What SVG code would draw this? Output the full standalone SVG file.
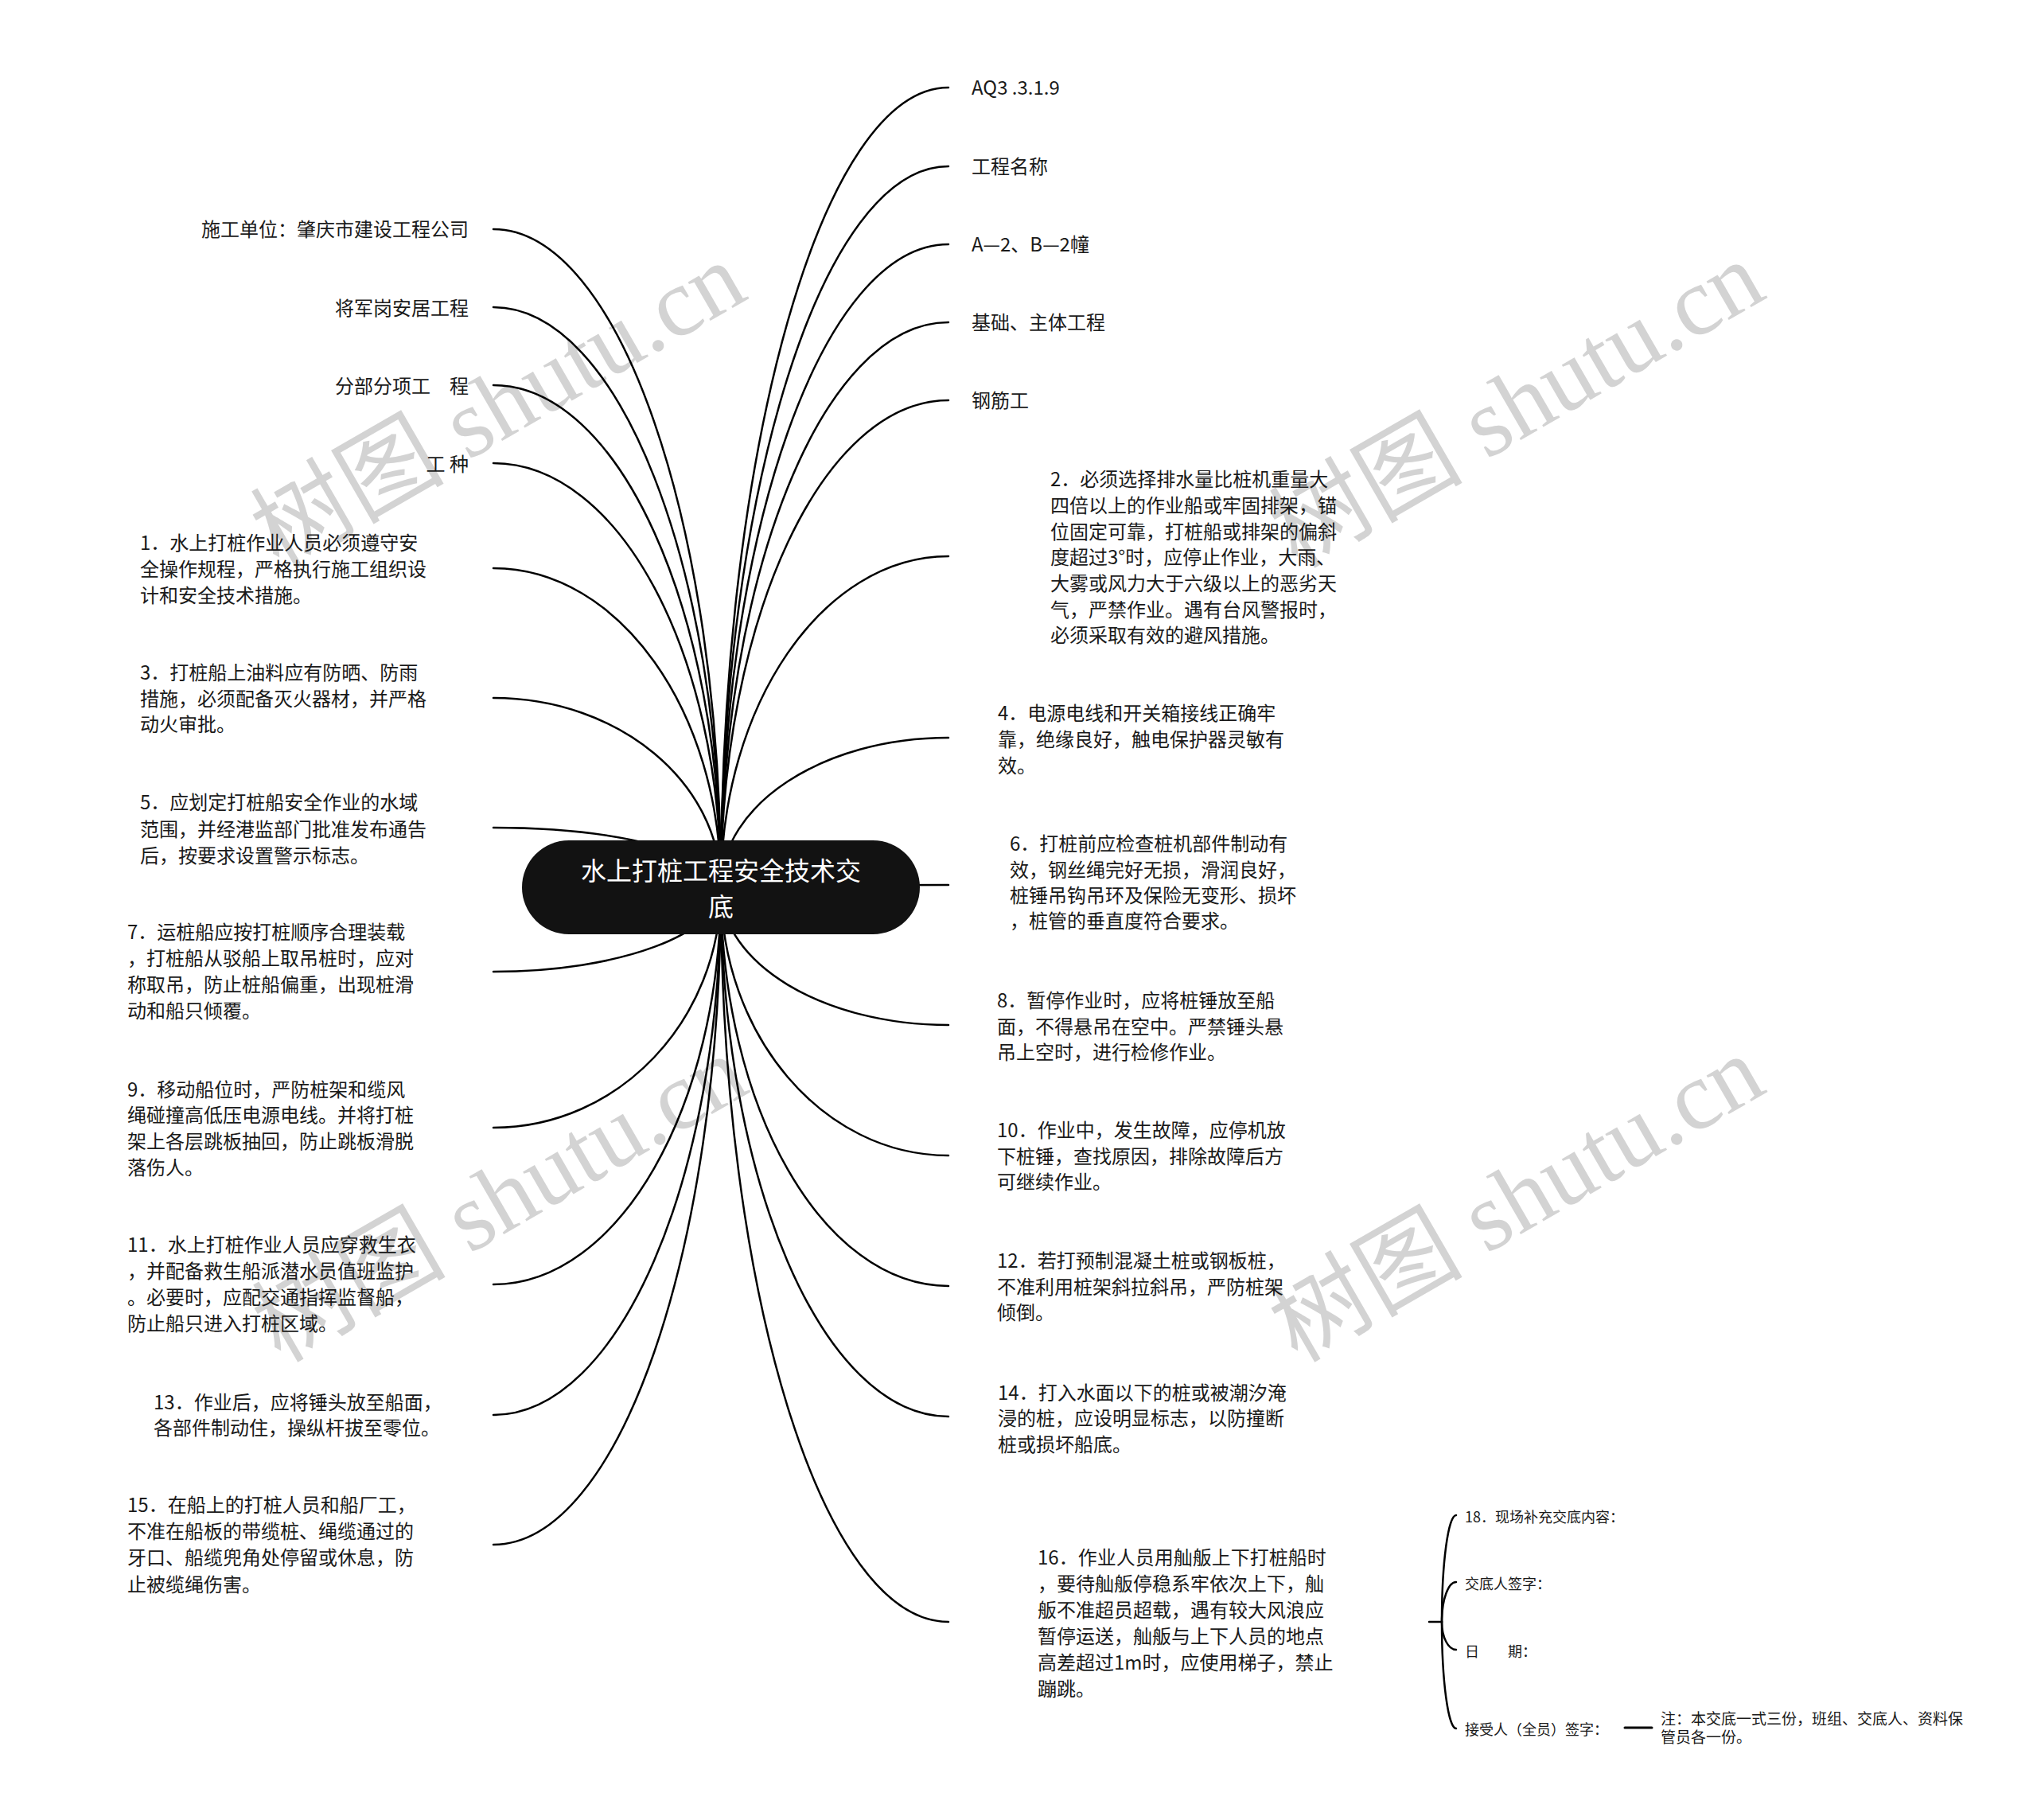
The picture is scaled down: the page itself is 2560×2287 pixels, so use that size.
<svg xmlns="http://www.w3.org/2000/svg" width="2560" height="2287" viewBox="0 0 2560 2287">
<style>
text{font-family:"Noto Sans CJK SC","Noto Sans",sans-serif;fill:#1a1a1a}
.t{font-size:24px}
.s{font-size:18px}
.n{font-size:19px}
.e{text-anchor:end}
.c{fill:none;stroke:#000;stroke-width:2.5;stroke-linecap:round}
.wm{font-family:"Liberation Serif","Noto Sans CJK SC",serif;font-size:122px;fill:#d3d3d3;text-anchor:end}
.root{font-size:32px;fill:#fff;text-anchor:middle}
</style>
<rect width="2560" height="2287" fill="#fff"/>
<g id="watermarks">
<text class="wm" transform="translate(943,374) rotate(-30)">树图 shutu.cn</text>
<text class="wm" transform="translate(2223,373) rotate(-30)">树图 shutu.cn</text>
<text class="wm" transform="translate(945,1371) rotate(-30)">树图 shutu.cn</text>
<text class="wm" transform="translate(2223,1371) rotate(-30)">树图 shutu.cn</text>
</g>
<g id="connectors">
<path class="c" d="M906 1115C906 560.2 1034.1 110 1192 110"/>
<path class="c" d="M906 1115C906 614.9 1034.1 209 1192 209"/>
<path class="c" d="M906 1115C906 669 1034.1 307 1192 307"/>
<path class="c" d="M906 1115C906 723.1 1034.1 405 1192 405"/>
<path class="c" d="M906 1115C906 777.2 1034.1 503 1192 503"/>
<path class="c" d="M906 1115C906 885.4 1034.1 699 1192 699"/>
<path class="c" d="M906 1115C906 1011.2 1034.1 927 1192 927"/>
<path class="c" d="M906 1115C906 1113.3 1034.1 1112 1192 1112"/>
<path class="c" d="M906 1115C906 1210.5 1034.1 1288 1192 1288"/>
<path class="c" d="M906 1115C906 1301 1034.1 1452 1192 1452"/>
<path class="c" d="M906 1115C906 1391.6 1034.1 1616 1192 1616"/>
<path class="c" d="M906 1115C906 1482.1 1034.1 1780 1192 1780"/>
<path class="c" d="M906 1115C906 1624.5 1034.1 2038 1192 2038"/>
<path class="c" d="M906 1115C906 658.5 777.9 288 620 288"/>
<path class="c" d="M906 1115C906 712.6 777.9 386 620 386"/>
<path class="c" d="M906 1115C906 766.7 777.9 484 620 484"/>
<path class="c" d="M906 1115C906 820.8 777.9 582 620 582"/>
<path class="c" d="M906 1115C906 893.6 777.9 714 620 714"/>
<path class="c" d="M906 1115C906 983.6 777.9 877 620 877"/>
<path class="c" d="M906 1115C906 1073.6 777.9 1040 620 1040"/>
<path class="c" d="M906 1115C906 1173.5 777.9 1221 620 1221"/>
<path class="c" d="M906 1115C906 1281.7 777.9 1417 620 1417"/>
<path class="c" d="M906 1115C906 1390.4 777.9 1614 620 1614"/>
<path class="c" d="M906 1115C906 1481 777.9 1778 620 1778"/>
<path class="c" d="M906 1115C906 1571 777.9 1941 620 1941"/>
<path class="c" d="M1796 2038H1812"/>
<path class="c" d="M1812 2038C1812 1964 1820 1904 1830 1904"/>
<path class="c" d="M1812 2038C1812 2010.4 1820 1988 1830 1988"/>
<path class="c" d="M1812 2038C1812 2057.3 1820 2073 1830 2073"/>
<path class="c" d="M1812 2038C1812 2112 1820 2172 1830 2172"/>
<path class="c" d="M2042 2171H2076" style="stroke-width:3"/>
</g>
<g id="root">
<rect x="656" y="1056" width="500" height="118" rx="59" fill="#121212"/>
<text class="root"><tspan x="906" y="1106">水上打桩工程安全技术交</tspan><tspan x="906" y="1151">底</tspan></text>
</g>
<g id="r-aq3"><text class="t" x="1221" y="119">AQ3 .3.1.9</text></g>
<g id="r-name"><text class="t" x="1221" y="218">工程名称</text></g>
<g id="r-ab"><text class="t" x="1221" y="316">A—2、B—2幢</text></g>
<g id="r-base"><text class="t" x="1221" y="414">基础、主体工程</text></g>
<g id="r-steel"><text class="t" x="1221" y="512">钢筋工</text></g>
<g id="l-unit"><text class="t e" x="589" y="297">施工单位：肇庆市建设工程公司</text></g>
<g id="l-proj"><text class="t e" x="589" y="396">将军岗安居工程</text></g>
<g id="l-sub"><text class="t e" x="589" y="494">分部分项工　程</text></g>
<g id="l-type"><text class="t e" x="589" y="592">工 种</text></g>
<g id="item1"><text class="t"><tspan x="176" y="691">1．水上打桩作业人员必须遵守安</tspan><tspan x="176" y="724">全操作规程，严格执行施工组织设</tspan><tspan x="176" y="757">计和安全技术措施。</tspan></text></g>
<g id="item3"><text class="t"><tspan x="176" y="854">3．打桩船上油料应有防晒、防雨</tspan><tspan x="176" y="887">措施，必须配备灭火器材，并严格</tspan><tspan x="176" y="919">动火审批。</tspan></text></g>
<g id="item5"><text class="t"><tspan x="176" y="1017">5．应划定打桩船安全作业的水域</tspan><tspan x="176" y="1051">范围，并经港监部门批准发布通告</tspan><tspan x="176" y="1084">后，按要求设置警示标志。</tspan></text></g>
<g id="item7"><text class="t"><tspan x="160" y="1180">7．运桩船应按打桩顺序合理装载</tspan><tspan x="160" y="1213">，打桩船从驳船上取吊桩时，应对</tspan><tspan x="160" y="1246">称取吊，防止桩船偏重，出现桩滑</tspan><tspan x="160" y="1279">动和船只倾覆。</tspan></text></g>
<g id="item9"><text class="t"><tspan x="160" y="1378">9．移动船位时，严防桩架和缆风</tspan><tspan x="160" y="1410">绳碰撞高低压电源电线。并将打桩</tspan><tspan x="160" y="1443">架上各层跳板抽回，防止跳板滑脱</tspan><tspan x="160" y="1476">落伤人。</tspan></text></g>
<g id="item11"><text class="t"><tspan x="160" y="1573">11．水上打桩作业人员应穿救生衣</tspan><tspan x="160" y="1606">，并配备救生船派潜水员值班监护</tspan><tspan x="160" y="1639">。必要时，应配交通指挥监督船，</tspan><tspan x="160" y="1672">防止船只进入打桩区域。</tspan></text></g>
<g id="item13"><text class="t"><tspan x="193" y="1771">13．作业后，应将锤头放至船面，</tspan><tspan x="193" y="1803">各部件制动住，操纵杆拔至零位。</tspan></text></g>
<g id="item15"><text class="t"><tspan x="160" y="1900">15．在船上的打桩人员和船厂工，</tspan><tspan x="160" y="1933">不准在船板的带缆桩、绳缆通过的</tspan><tspan x="160" y="1966">牙口、船缆兜角处停留或休息，防</tspan><tspan x="160" y="2000">止被缆绳伤害。</tspan></text></g>
<g id="item2"><text class="t"><tspan x="1320" y="611">2．必须选择排水量比桩机重量大</tspan><tspan x="1320" y="644">四倍以上的作业船或牢固排架，锚</tspan><tspan x="1320" y="677">位固定可靠，打桩船或排架的偏斜</tspan><tspan x="1320" y="709">度超过3°时，应停止作业，大雨、</tspan><tspan x="1320" y="742">大雾或风力大于六级以上的恶劣天</tspan><tspan x="1320" y="775">气，严禁作业。遇有台风警报时，</tspan><tspan x="1320" y="807">必须采取有效的避风措施。</tspan></text></g>
<g id="item4"><text class="t"><tspan x="1254" y="905">4．电源电线和开关箱接线正确牢</tspan><tspan x="1254" y="938">靠，绝缘良好，触电保护器灵敏有</tspan><tspan x="1254" y="971">效。</tspan></text></g>
<g id="item6"><text class="t"><tspan x="1269" y="1069">6．打桩前应检查桩机部件制动有</tspan><tspan x="1269" y="1102">效，钢丝绳完好无损，滑润良好，</tspan><tspan x="1269" y="1134">桩锤吊钩吊环及保险无变形、损坏</tspan><tspan x="1269" y="1166">，桩管的垂直度符合要求。</tspan></text></g>
<g id="item8"><text class="t"><tspan x="1253" y="1266">8．暂停作业时，应将桩锤放至船</tspan><tspan x="1253" y="1299">面，不得悬吊在空中。严禁锤头悬</tspan><tspan x="1253" y="1331">吊上空时，进行检修作业。</tspan></text></g>
<g id="item10"><text class="t"><tspan x="1253" y="1429">10．作业中，发生故障，应停机放</tspan><tspan x="1253" y="1462">下桩锤，查找原因，排除故障后方</tspan><tspan x="1253" y="1494">可继续作业。</tspan></text></g>
<g id="item12"><text class="t"><tspan x="1253" y="1593">12．若打预制混凝土桩或钢板桩，</tspan><tspan x="1253" y="1626">不准利用桩架斜拉斜吊，严防桩架</tspan><tspan x="1253" y="1658">倾倒。</tspan></text></g>
<g id="item14"><text class="t"><tspan x="1254" y="1759">14．打入水面以下的桩或被潮汐淹</tspan><tspan x="1254" y="1791">浸的桩，应设明显标志，以防撞断</tspan><tspan x="1254" y="1824">桩或损坏船底。</tspan></text></g>
<g id="item16"><text class="t"><tspan x="1304" y="1966">16．作业人员用舢舨上下打桩船时</tspan><tspan x="1304" y="1999">，要待舢舨停稳系牢依次上下，舢</tspan><tspan x="1304" y="2032">舨不准超员超载，遇有较大风浪应</tspan><tspan x="1304" y="2065">暂停运送，舢舨与上下人员的地点</tspan><tspan x="1304" y="2098">高差超过1m时，应使用梯子，禁止</tspan><tspan x="1304" y="2131">蹦跳。</tspan></text></g>
<g id="sub18"><text class="s" x="1841" y="1913">18．现场补充交底内容：</text></g>
<g id="sub-sign"><text class="s" x="1841" y="1997">交底人签字：</text></g>
<g id="sub-date"><text class="s" x="1841" y="2082">日　　期：</text></g>
<g id="sub-recv"><text class="s" x="1841" y="2180">接受人（全员）签字：</text></g>
<g id="note"><text class="n"><tspan x="2087" y="2167">注：本交底一式三份，班组、交底人、资料保</tspan><tspan x="2087" y="2190">管员各一份。</tspan></text></g>
</svg>
